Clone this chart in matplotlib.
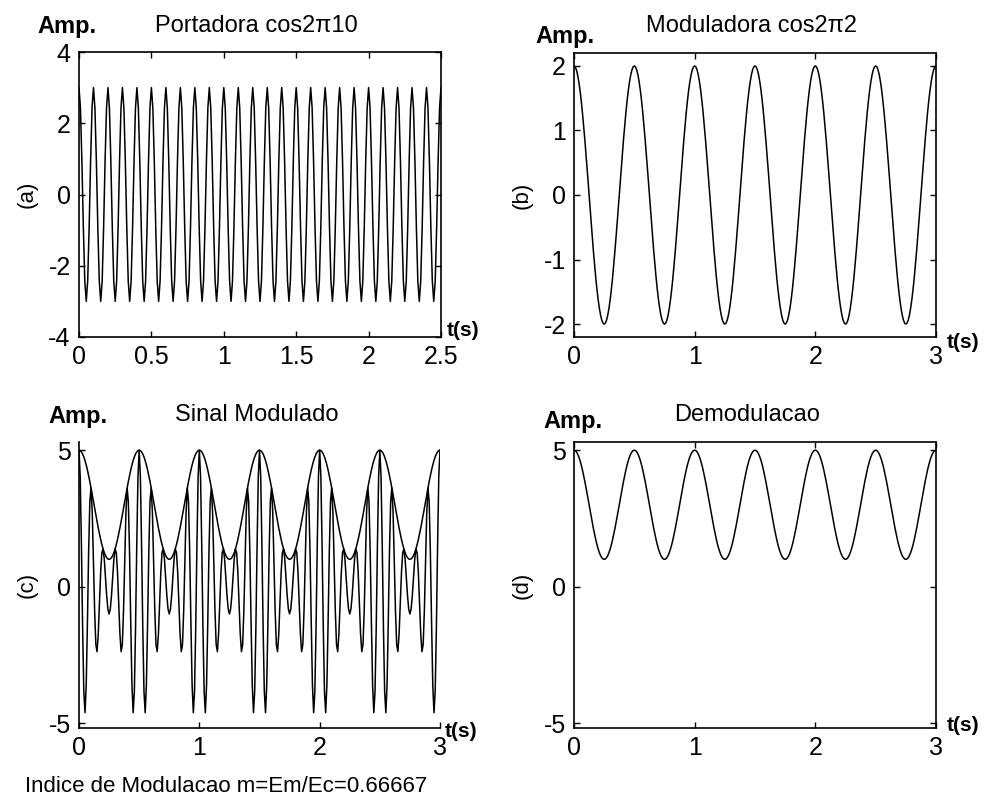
import numpy as np
import matplotlib
matplotlib.use("Agg")
import matplotlib.pyplot as plt

plt.rcParams['font.family'] = ['Liberation Sans', 'DejaVu Sans']
plt.rcParams['axes.unicode_minus'] = False

# signal parameters read from the titles / labels
carrier_amp = 3.0      # Ec
carrier_freq = 10.0    # Hz
mod_amp = 2.0          # Em
mod_freq = 2.0         # Hz
t_carrier_end = 2.5
t_end = 3.0
dt = 0.01

titles = ['Portadora cos2\u03c010', 'Moduladora cos2\u03c02', 'Sinal Modulado', 'Demodulacao']
ylabels = ['(a)', '(b)', '(c)', '(d)']
xticks_a = [0, 0.5, 1, 1.5, 2, 2.5]
yticks_a = [-4, -2, 0, 2, 4]
xticks_b = [0, 1, 2, 3]
yticks_b = [-2, -1, 0, 1, 2]
yticks_cd = [-5, 0, 5]

t_a = np.arange(0, t_carrier_end + dt / 2, dt)
t = np.arange(0, t_end + dt / 2, dt)
carrier_a = carrier_amp * np.cos(2 * np.pi * carrier_freq * t_a)
modulating = mod_amp * np.cos(2 * np.pi * mod_freq * t)
envelope = carrier_amp + modulating
modulated = envelope * np.cos(2 * np.pi * carrier_freq * t)
m_index = mod_amp / carrier_amp

W, H = 984, 797
fig = plt.figure(figsize=(W / 100, H / 100), dpi=100)


def box(left, top, right, bottom):
    return [left / W, 1 - bottom / H, (right - left) / W, (bottom - top) / H]


def ftext(x, y, s, **kw):
    fig.text(x / W, 1 - y / H, s, **kw)


ax_a = fig.add_axes(box(79, 52, 441, 337))
ax_b = fig.add_axes(box(574, 53, 936, 337))
ax_c = fig.add_axes(box(79, 442, 440, 728))
ax_d = fig.add_axes(box(574, 442, 936, 728))

ax_a.plot(t_a, carrier_a, color='black', lw=1.1)
ax_b.plot(t, modulating, color='black', lw=1.1)
ax_c.plot(t, modulated, color='black', lw=1.1)
ax_c.plot(t, envelope, color='black', lw=1.1)
ax_d.plot(t, envelope, color='black', lw=1.1)

ax_a.set_xlim(0, t_carrier_end)
ax_a.set_ylim(-4, 4)
ax_a.set_xticks(xticks_a)
ax_a.set_xticklabels(['0', '0.5', '1', '1.5', '2', '2.5'])
ax_a.set_yticks(yticks_a)

ax_b.set_xlim(0, t_end)
ax_b.set_ylim(-2.2, 2.2)
ax_b.set_xticks(xticks_b)
ax_b.set_yticks(yticks_b)

for ax in (ax_c, ax_d):
    ax.set_xlim(0, t_end)
    ax.set_ylim(-5.18, 5.3)
    ax.set_xticks(xticks_b)
    ax.set_yticks(yticks_cd)

for ax, lab in zip((ax_a, ax_b, ax_c, ax_d), ylabels):
    ax.tick_params(direction='in', length=4, width=1, labelsize=18, pad=6,
                   top=True, right=True)
    ax.set_ylabel(lab, fontsize=16, labelpad=8)
    for sp in ax.spines.values():
        sp.set_linewidth(1.2)

# plot (c) is drawn without the box
ax_c.spines['top'].set_visible(False)
ax_c.spines['right'].set_visible(False)
ax_c.tick_params(top=False, right=False)

title_pos = [(256, 32), (752, 32), (257, 421), (747, 421)]
for (x, y), s in zip(title_pos, titles):
    ftext(x, y, s, ha='center', va='baseline', fontsize=17)

amp_pos = [(37, 33), (535, 43), (48, 423), (543, 428)]
for x, y in amp_pos:
    ftext(x, y, 'Amp.', ha='left', va='baseline', fontsize=17, fontweight='bold')

ts_pos = [(447, 336), (947, 348), (445, 737), (947, 731)]
for x, y in ts_pos:
    ftext(x, y, 't(s)', ha='left', va='baseline', fontsize=15, fontweight='bold')

ftext(25, 792, 'Indice de Modulacao m=Em/Ec=%.5f' % m_index,
      ha='left', va='baseline', fontsize=16)

fig.savefig('out.png', dpi=100, facecolor='white')
